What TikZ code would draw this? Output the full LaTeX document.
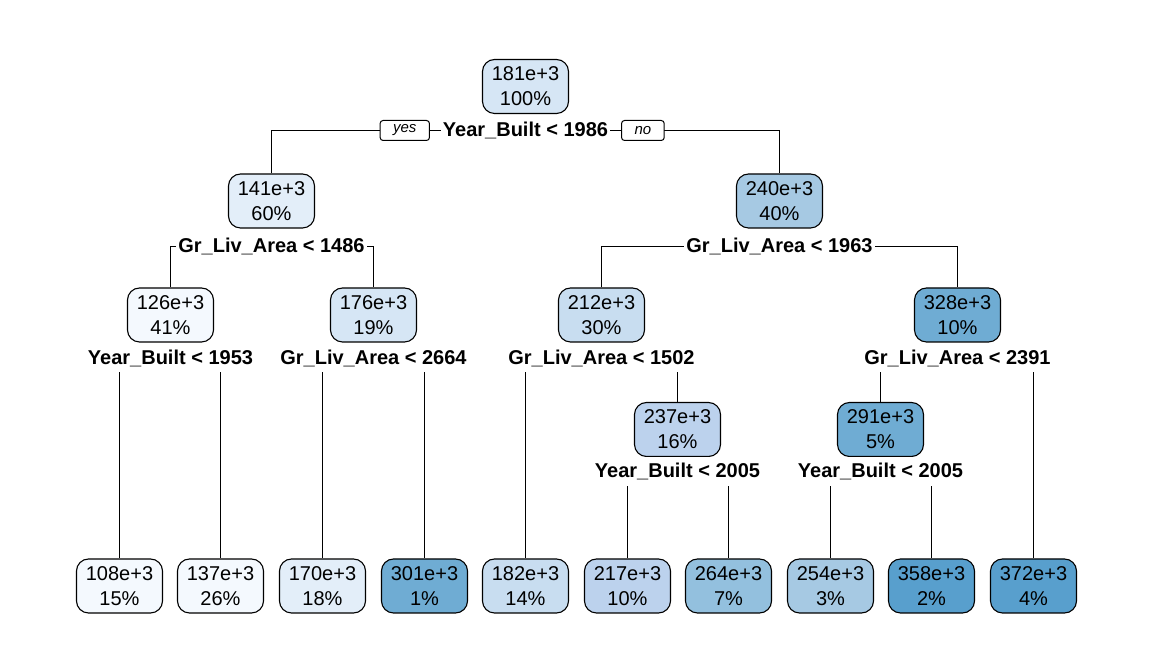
\documentclass[tikz,border=0pt]{standalone}
\usepackage{fontspec}
\setmainfont{Liberation Sans}
\usepackage{xcolor}
\usetikzlibrary{positioning, backgrounds}

% fill shades for the fitted values
\definecolor{blueA}{RGB}{244,249,254}
\definecolor{blueB}{RGB}{227,238,249}
\definecolor{blueC}{RGB}{214,230,245}
\definecolor{blueD}{RGB}{200,221,240}
\definecolor{blueE}{RGB}{188,210,237}
\definecolor{blueF}{RGB}{166,201,227}
\definecolor{blueG}{RGB}{147,192,222}
\definecolor{blueH}{RGB}{111,172,211}
\definecolor{blueI}{RGB}{88,159,205}

\begin{document}
\begin{tikzpicture}[x=0.5pt, y=-0.5pt,
  nodebox/.style={draw=black, line width=0.55pt, rounded corners=6pt, align=center,
    minimum width=43pt, minimum height=27pt, inner xsep=3pt,
    font=\fontsize{10}{12.5}\selectfont},
  splitlbl/.style={fill=white, inner xsep=1pt, inner ysep=3pt,
    font=\fontsize{10}{12}\selectfont\bfseries},
  yesno/.style={draw=black, fill=white, line width=0.5pt, rounded corners=1.5pt,
    inner xsep=6.5pt, inner ysep=0pt, minimum height=10pt,
    font=\fontsize{7.5}{9}\selectfont\itshape},
  branch/.style={line width=0.5pt}]
\useasboundingbox (0,0) rectangle (1152,672);

% Root and its split
\node[nodebox, fill=blueC] (n181) at (525.5,86.5) {181e+3\\100\%};
\node[splitlbl] (s181) at (525.5,130.5) {Year\_Built < 1986};
\node[yesno, left=5.3pt of s181] (yes) {yes};
\node[yesno, right=5.3pt of s181] (no) {no};

% Level 1
\node[nodebox, fill=blueB] (n141) at (271.5,201) {141e+3\\60\%};
\node[splitlbl] (s141) at (271.5,246.5) {Gr\_Liv\_Area < 1486};
\node[nodebox, fill=blueF] (n240) at (779.5,201) {240e+3\\40\%};
\node[splitlbl] (s240) at (779.5,246.5) {Gr\_Liv\_Area < 1963};

% Level 2
\node[nodebox, fill=blueA] (n126) at (170.5,315) {126e+3\\41\%};
\node[splitlbl] (s126) at (170.5,358) {Year\_Built < 1953};
\node[nodebox, fill=blueC] (n176) at (373.5,315) {176e+3\\19\%};
\node[splitlbl] (s176) at (373.5,358) {Gr\_Liv\_Area < 2664};
\node[nodebox, fill=blueD] (n212) at (601.5,315) {212e+3\\30\%};
\node[splitlbl] (s212) at (601.5,358) {Gr\_Liv\_Area < 1502};
\node[nodebox, fill=blueH] (n328) at (957.5,315) {328e+3\\10\%};
\node[splitlbl] (s328) at (957.5,358) {Gr\_Liv\_Area < 2391};

% Level 3
\node[nodebox, fill=blueE] (n237) at (677.5,429.5) {237e+3\\16\%};
\node[splitlbl] (s237) at (677.5,471.5) {Year\_Built < 2005};
\node[nodebox, fill=blueH] (n291) at (880.5,429.5) {291e+3\\5\%};
\node[splitlbl] (s291) at (880.5,471.5) {Year\_Built < 2005};

% Leaves
\foreach \name/\x/\val/\pct/\col in {l108/119.5/108e+3/15/blueA, l137/220.5/137e+3/26/blueA,
    l170/322.5/170e+3/18/blueB, l301/424.5/301e+3/1/blueH, l182/525.5/182e+3/14/blueD,
    l217/627.5/217e+3/10/blueE, l264/728.5/264e+3/7/blueG, l254/830.5/254e+3/3/blueF,
    l358/931.5/358e+3/2/blueI, l372/1033.5/372e+3/4/blueI} {
  \node[nodebox, fill=\col] (\name) at (\x,586) {\val\\\pct\%};
}

% Branches (behind the labels)
\begin{pgfonlayer}{background}
  \draw[branch] (n141.north) |- (s181.center) -| (n240.north);
  \draw[branch] (n126.north) |- (s141.center) -| (n176.north);
  \draw[branch] (n212.north) |- (s240.center) -| (n328.north);
  \draw[branch] (l108.north) |- (s126.center) -| (l137.north);
  \draw[branch] (l170.north) |- (s176.center) -| (l301.north);
  \draw[branch] (l182.north) |- (s212.center) -| (n237.north);
  \draw[branch] (n291.north) |- (s328.center) -| (l372.north);
  \draw[branch] (l217.north) |- (s237.center) -| (l264.north);
  \draw[branch] (l254.north) |- (s291.center) -| (l358.north);
\end{pgfonlayer}
\end{tikzpicture}
\end{document}
